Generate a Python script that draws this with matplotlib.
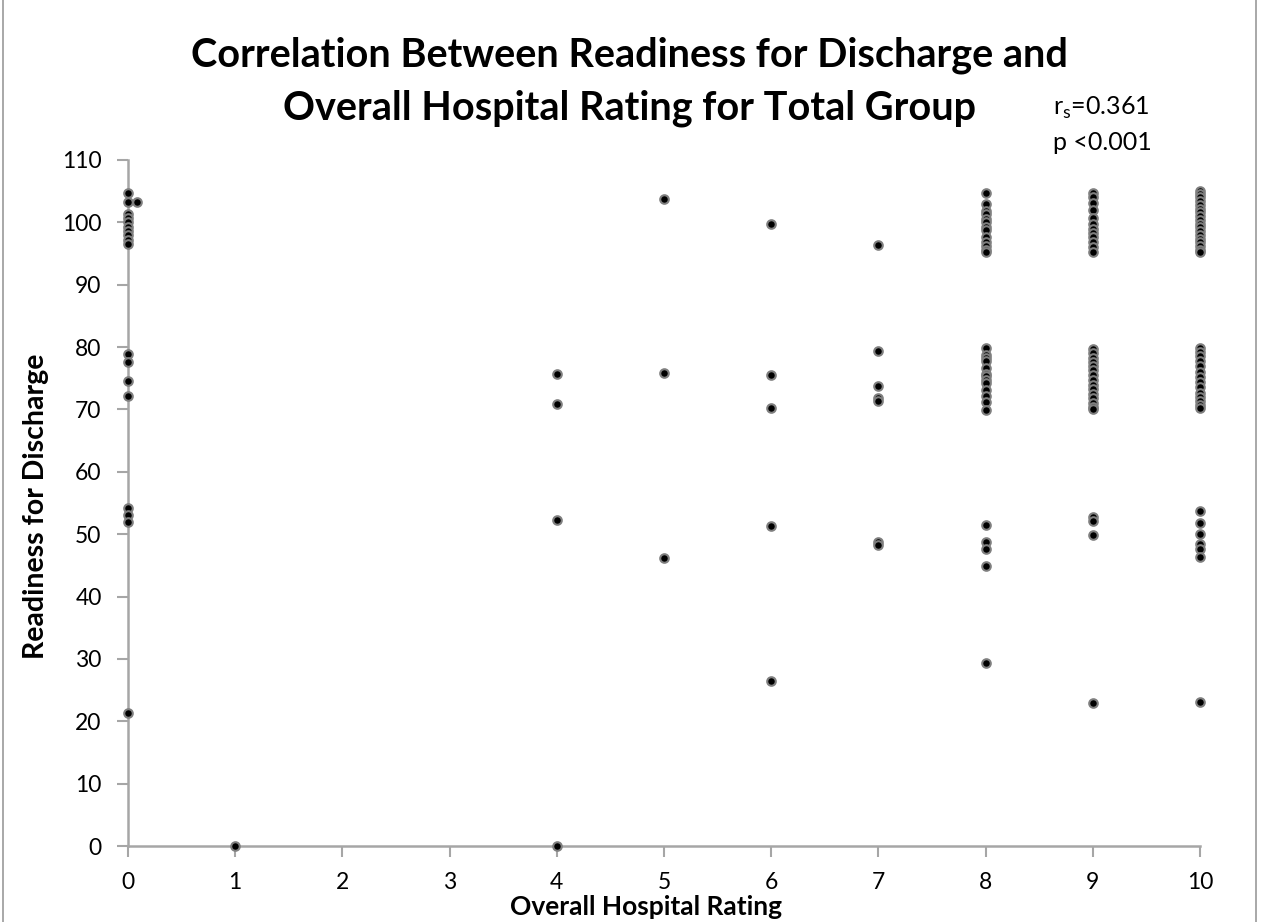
import matplotlib
matplotlib.use("Agg")
import matplotlib.pyplot as plt
from matplotlib.patches import Rectangle

# Overall hospital rating (x) and readiness for discharge score (y)
rating_0 = [0, 0, 0, 0, 0, 0, 0, 0, 0, 0, 0.08, 0, 0, 0, 0, 0, 0, 0, 0]
ready_0 = [104.7, 103.3, 101.3, 100.7, 100.0, 99.3, 98.6, 97.9, 97.2, 96.5, 103.3,
           78.9, 77.6, 74.6, 72.2, 54.2, 53.0, 52.0, 21.3]

rating_1 = [1]
ready_1 = [0.0]

rating_4 = [4, 4, 4, 4]
ready_4 = [75.7, 70.8, 52.3, 0.0]

rating_5 = [5, 5, 5]
ready_5 = [103.7, 75.9, 46.2]

rating_6 = [6, 6, 6, 6, 6]
ready_6 = [99.8, 75.6, 70.2, 51.3, 26.5]

rating_7 = [7, 7, 7, 7, 7, 7, 7]
ready_7 = [96.4, 79.3, 73.7, 71.8, 71.4, 48.7, 48.2]

ready_8 = [104.7, 102.9, 101.9, 101.3, 100.6, 100.0, 99.3, 98.8, 97.6, 96.9, 96.2, 95.6, 95.2,
           79.8, 78.7, 78.2, 77.7, 76.6, 75.7, 75.3, 74.7, 74.2, 73.1, 72.1, 71.2, 69.9,
           51.4, 48.8, 47.7, 44.9, 29.3]
rating_8 = [8] * len(ready_8)

ready_9 = [104.7, 104.1, 103.1, 102.0, 100.7, 99.8, 99.0, 98.3, 97.7, 96.9, 96.1, 95.3,
           79.7, 79.0, 78.3, 77.6, 77.0, 76.3, 75.5, 74.7, 74.0, 73.3, 72.5, 71.8, 71.0, 70.4, 70.0,
           52.8, 52.1, 49.9, 23.0]
rating_9 = [9] * len(ready_9)

ready_10 = [105.0, 104.5, 104.0, 103.4, 102.8, 102.2, 101.6, 101.0, 100.4, 99.8, 99.2, 98.6,
            98.0, 97.4, 96.8, 96.2, 95.6, 95.2,
            79.8, 79.2, 78.5, 77.7, 77.0, 76.0, 75.2, 74.4, 73.6, 72.7, 72.0, 71.3, 70.7, 70.2,
            53.7, 51.8, 50.0, 48.4, 47.6, 46.3, 23.1]
rating_10 = [10] * len(ready_10)

x = rating_0 + rating_1 + rating_4 + rating_5 + rating_6 + rating_7 + rating_8 + rating_9 + rating_10
y = ready_0 + ready_1 + ready_4 + ready_5 + ready_6 + ready_7 + ready_8 + ready_9 + ready_10

X_TICKS = list(range(0, 11))
Y_TICKS = list(range(0, 111, 10))

AXIS_GREY = "#a6a6a6"
FONT = ["Lato", "DejaVu Sans"]

fig = plt.figure(figsize=(12.61, 9.22), dpi=100)
ax = fig.add_axes([128 / 1261, 1 - 846 / 922, (1200 - 128) / 1261, (846 - 160) / 922])

ax.scatter(x, y, s=38, c="black", edgecolors="#7f7f7f", linewidths=1.5,
           clip_on=False, zorder=3)

ax.set_xlim(0, 10)
ax.set_ylim(0, 110)
ax.set_xticks(X_TICKS)
ax.set_yticks(Y_TICKS)
for side in ("top", "right"):
    ax.spines[side].set_visible(False)
for side in ("left", "bottom"):
    ax.spines[side].set_color(AXIS_GREY)
    ax.spines[side].set_linewidth(1.8)
ax.tick_params(axis="both", colors=AXIS_GREY, width=1.5, length=8, direction="out",
               labelcolor="black", labelsize=16.5)
ax.tick_params(axis="x", pad=11)
ax.tick_params(axis="y", pad=11)
for lab in ax.get_xticklabels() + ax.get_yticklabels():
    lab.set_family(FONT)

ax.set_xlabel("Overall Hospital Rating", fontsize=19, fontweight="bold", family=FONT)
ax.xaxis.set_label_coords(0.483, -0.072)
ax.set_ylabel("Readiness for Discharge", fontsize=20.5, fontweight="bold", family=FONT)
ax.yaxis.set_label_coords(-0.074, 0.495)

fig.text(0.499, 0.94, "Correlation Between Readiness for Discharge and",
         ha="center", va="center", fontsize=28.5, fontweight="bold", family=FONT)
fig.text(0.499, 0.883, "Overall Hospital Rating for Total Group",
         ha="center", va="center", fontsize=28.5, fontweight="bold", family=FONT)
fig.text(1053 / 1261, 1 - 108 / 922, r"r$_\mathregular{s}$=0.361", ha="left", va="center",
         fontsize=18, family=FONT)
fig.text(1053 / 1261, 1 - 142 / 922, "p <0.001", ha="left", va="center",
         fontsize=18, family=FONT)

fig.patches.append(Rectangle((0.002, -0.01), 0.994, 1.02, transform=fig.transFigure,
                             fill=False, edgecolor="#9a9a9a", linewidth=1.2))

fig.savefig("out.png", dpi=100)
